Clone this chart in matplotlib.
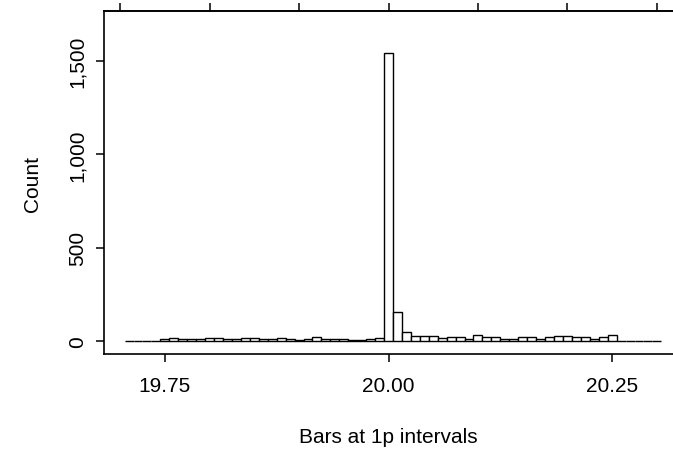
import matplotlib
matplotlib.use("Agg")
import matplotlib.pyplot as plt
from matplotlib.ticker import FuncFormatter

#
# Histogram of prices, one bar per penny
#

prices = [19.71, 19.72, 19.73, 19.74, 19.75, 19.76, 19.77, 19.78, 19.79, 19.80,
          19.81, 19.82, 19.83, 19.84, 19.85, 19.86, 19.87, 19.88, 19.89, 19.90,
          19.91, 19.92, 19.93, 19.94, 19.95, 19.96, 19.97, 19.98, 19.99, 20.00,
          20.01, 20.02, 20.03, 20.04, 20.05, 20.06, 20.07, 20.08, 20.09, 20.10,
          20.11, 20.12, 20.13, 20.14, 20.15, 20.16, 20.17, 20.18, 20.19, 20.20,
          20.21, 20.22, 20.23, 20.24, 20.25, 20.26, 20.27, 20.28, 20.29, 20.30]

counts = [2, 1, 2, 1, 9, 18, 9, 9, 9, 18,
          18, 9, 9, 17, 14, 8, 8, 14, 12, 7,
          8, 22, 9, 13, 12, 7, 6, 10, 14, 1542,
          155, 46, 27, 27, 26, 15, 19, 19, 12, 33,
          19, 19, 13, 13, 19, 19, 13, 23, 27, 27,
          19, 19, 12, 19, 31, 2, 1, 2, 1, 1]

xticks = [19.75, 20.00, 20.25]
top_ticks = [19.7, 19.8, 19.9, 20.0, 20.1, 20.2, 20.3]
yticks = [0, 500, 1000, 1500]

plt.rcParams['font.family'] = ['Liberation Sans', 'DejaVu Sans']

fig = plt.figure(figsize=(6.73, 4.52), dpi=100)
ax = fig.add_axes([104/673, 1 - 355/452, 1 - 104/673, (355 - 12)/452])

ax.bar(prices, counts, width=0.01, color='white', edgecolor='black', linewidth=1.0)

ax.set_xlim(19.682, 20.318)
ax.set_ylim(-70, 1768)

ax.set_xticks(xticks)
ax.set_xticklabels(["%.2f" % t for t in xticks])
ax.set_yticks(yticks)
ax.yaxis.set_major_formatter(FuncFormatter(lambda v, p: "{:,.0f}".format(v)))
for lab in ax.get_yticklabels():
    lab.set_rotation(90)
    lab.set_va('center')

ax.tick_params(axis='both', direction='out', length=6, width=1.1, labelsize=15)
ax.tick_params(axis='x', pad=10)
ax.tick_params(axis='y', pad=6)
ax.spines['right'].set_visible(False)
for s in ['left', 'top', 'bottom']:
    ax.spines[s].set_linewidth(1.2)

top = ax.secondary_xaxis('top')
top.set_xticks(top_ticks)
top.set_xticklabels([])
top.tick_params(direction='out', length=6, width=1.1)
top.spines['top'].set_linewidth(1.2)

ax.set_xlabel("Bars at 1p intervals", fontsize=15, labelpad=23)
ax.set_ylabel("Count", fontsize=15, labelpad=19)

fig.savefig("out.png", dpi=100)
